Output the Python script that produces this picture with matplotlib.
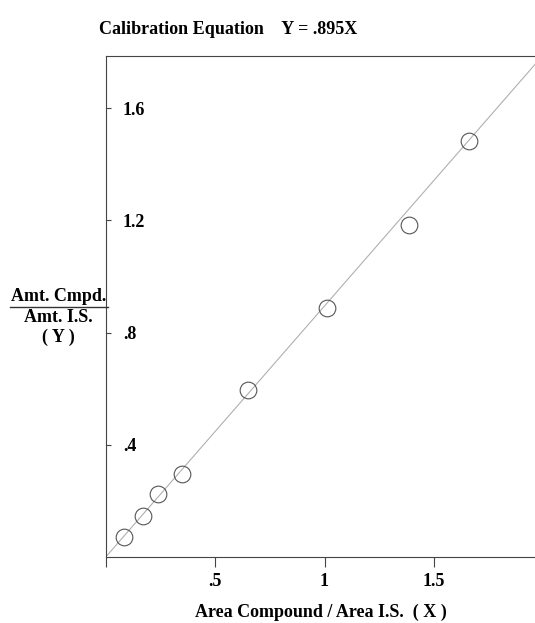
import matplotlib as mpl
mpl.use("Agg")
import matplotlib.pyplot as plt
from matplotlib.lines import Line2D

# calibration data (ratio of areas vs ratio of amounts)
area_ratio = [0.086, 0.173, 0.238, 0.351, 0.651, 1.011, 1.386, 1.660]
amt_ratio = [0.073, 0.148, 0.224, 0.296, 0.596, 0.888, 1.184, 1.483]
SLOPE = 0.895
fit_x = [0.0, 2.2]

xticks = [0, 0.5, 1, 1.5]
xticklabels = ["", ".5", "1", "1.5"]
yticks = [0.4, 0.8, 1.2, 1.6]
yticklabels = [".4", ".8", "1.2", "1.6"]

W, H = 535, 623
mpl.rcParams.update({"font.family": "Liberation Serif", "font.weight": "bold",
                     "font.size": 13})

fig = plt.figure(figsize=(W / 100, H / 100), dpi=100)
ax = fig.add_axes([105.5 / W, 1 - 557.3 / H, 1 - 105.5 / W, (557.3 - 55.7) / H])

ax.plot(fit_x, [SLOPE * v for v in fit_x], color="#b0b0b0", lw=0.8, zorder=1)
ax.plot(area_ratio, amt_ratio, "o", ms=12, mfc="none", mec="#555555", mew=0.8, zorder=2)

ax.set_xlim(0, (535 - 105.5) / 219)
ax.set_ylim(0, (557.3 - 55.7) / 280.8)
ax.set_xticks(xticks)
ax.set_xticklabels(xticklabels)
ax.set_yticks(yticks)
ax.set_yticklabels(yticklabels, ha="left")
ax.tick_params(axis="x", direction="out", length=7, width=0.8, pad=4.5, color="#444444")
ax.tick_params(axis="y", direction="in", length=3.6, width=0.8, pad=-12.6, color="#444444")
ax.spines["right"].set_visible(False)
for s in ("left", "bottom", "top"):
    ax.spines[s].set_color("#444444")
    ax.spines[s].set_linewidth(0.8)

fig.text(99 / W, 1 - 29 / H, "Calibration Equation    Y = .895X", ha="left", va="center")
fig.text(321 / W, 1 - 612.7 / H, "Area Compound / Area I.S.  ( X )", ha="center", va="center")
fig.text(59 / W, 1 - 296.7 / H, "Amt. Cmpd.", ha="center", va="center")
fig.text(58 / W, 1 - 318 / H, "Amt. I.S.", ha="center", va="center")
fig.text(58.5 / W, 1 - 337.7 / H, "( Y )", ha="center", va="center")
fig.add_artist(Line2D([10 / W, 108 / W], [1 - 306.7 / H, 1 - 306.7 / H],
                      transform=fig.transFigure, color="#333333", lw=1.0))

fig.savefig("out.png", dpi=100)
